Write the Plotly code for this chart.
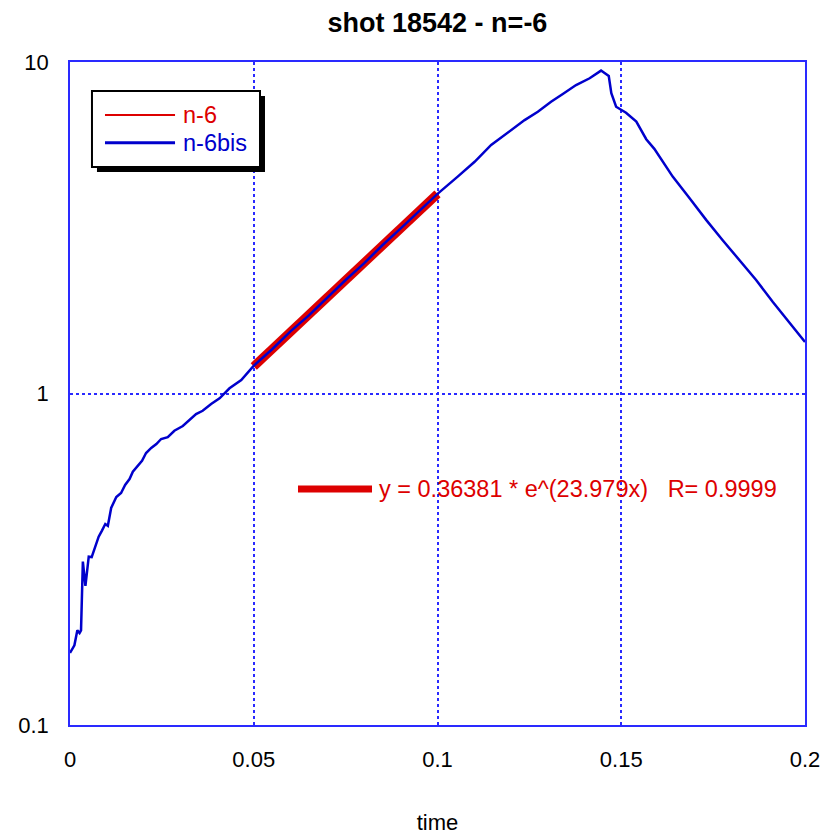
import plotly.graph_objects as go

# Measured signal "n-6bis"
time_bis = [0.0, 0.0012, 0.0020, 0.0026, 0.0030, 0.0035, 0.0042, 0.0051, 0.0059, 0.0069,
            0.0078, 0.0087, 0.0096, 0.0103, 0.0112, 0.0126, 0.0139, 0.0150, 0.0162, 0.0171,
            0.0184, 0.0196, 0.0207, 0.0221, 0.0235, 0.0248, 0.0266, 0.0284, 0.0307, 0.0325,
            0.0343, 0.0361, 0.0384, 0.0407, 0.0434, 0.0466, 0.0499, 0.055, 0.060, 0.065,
            0.070, 0.075, 0.080, 0.085, 0.090, 0.095, 0.100, 0.1055, 0.1101, 0.1146,
            0.1182, 0.1210, 0.1237, 0.1273, 0.1309, 0.1341, 0.1377, 0.1414, 0.1445, 0.1466,
            0.1473, 0.1486, 0.1513, 0.1541, 0.1568, 0.1590, 0.1640, 0.1686, 0.1731, 0.1776,
            0.1822, 0.1867, 0.1912, 0.1958, 0.2000]
value_bis = [0.165, 0.174, 0.193, 0.1895, 0.193, 0.311, 0.263, 0.322, 0.321, 0.345,
             0.370, 0.386, 0.404, 0.399, 0.4515, 0.487, 0.501, 0.530, 0.552, 0.581,
             0.604, 0.627, 0.6615, 0.685, 0.704, 0.729, 0.738, 0.772, 0.798, 0.832,
             0.867, 0.887, 0.930, 0.967, 1.037, 1.098, 1.21, 1.36, 1.54, 1.72,
             1.95, 2.20, 2.47, 2.80, 3.15, 3.56, 4.0, 4.51, 5.00, 5.62,
             6.02, 6.38, 6.68, 7.08, 7.59, 8.01, 8.52, 8.93, 9.42, 9.07,
             8.05, 7.33, 7.03, 6.61, 5.85, 5.47, 4.51, 3.88, 3.34, 2.90,
             2.53, 2.20, 1.89, 1.63, 1.43]

# Exponential fit "n-6" over 0.05..0.1
time_fit = [0.05, 0.1]
value_fit = [1.207, 4.002]

title_text = "shot 18542 - n=-6"
fit_label = "y = 0.36381 * e^(23.979x)   R= 0.9999"
x_ticks = [0, 0.05, 0.1, 0.15, 0.2]
x_tick_labels = ["0", "0.05", "0.1", "0.15", "0.2"]
y_ticks = [0.1, 1, 10]
y_tick_labels = ["0.1", "1", "10"]

FONT = "Liberation Sans, Arial, sans-serif"
RED = "#dd0000"
BLUE = "#0000cc"
GRID = "#2a2aff"

fig = go.Figure()
fig.add_trace(go.Scatter(x=time_fit, y=value_fit, mode="lines", name="n-6",
                         line=dict(color=RED, width=9), showlegend=False))
fig.add_trace(go.Scatter(x=time_bis, y=value_bis, mode="lines", name="n-6bis",
                         line=dict(color=BLUE, width=2.5), showlegend=False))

axis_common = dict(showline=True, linecolor=GRID, linewidth=1.5, mirror=True,
                   showgrid=True, gridcolor=GRID, griddash="dot", gridwidth=1.5,
                   ticks="", zeroline=False, automargin=False,
                   tickfont=dict(family=FONT, size=22, color="black"))

fig.update_xaxes(range=[0, 0.2], tickvals=x_ticks, ticktext=x_tick_labels,
                 ticklabelstandoff=14,
                 title=dict(text="time", font=dict(family=FONT, size=22, color="black"),
                            standoff=46),
                 **axis_common)
fig.update_yaxes(type="log", range=[-1, 1], tickvals=y_ticks, ticktext=y_tick_labels,
                 ticklabelstandoff=15, **axis_common)

shapes = [
    # legend shadow
    dict(type="rect", xref="paper", yref="paper", x0=0.0367, x1=0.2653, y0=0.8341, y1=0.9487,
         fillcolor="black", line=dict(color="black", width=0)),
    # legend box
    dict(type="rect", xref="paper", yref="paper", x0=0.0299, x1=0.2585, y0=0.8416, y1=0.9563,
         fillcolor="white", line=dict(color="black", width=2)),
    dict(type="line", xref="paper", yref="paper", x0=0.0476, x1=0.1429, y0=0.9201, y1=0.9201,
         line=dict(color=RED, width=2)),
    dict(type="line", xref="paper", yref="paper", x0=0.0476, x1=0.1429, y0=0.8783, y1=0.8783,
         line=dict(color=BLUE, width=3)),
    # fit label swatch
    dict(type="line", xref="paper", yref="paper", x0=0.3102, x1=0.4109, y0=0.356, y1=0.356,
         line=dict(color=RED, width=7)),
]

annotations = [
    dict(xref="paper", yref="paper", x=0.151, y=0.9201, text="n-6", showarrow=False,
         xanchor="left", yanchor="middle", font=dict(family=FONT, size=23.5, color=RED)),
    dict(xref="paper", yref="paper", x=0.151, y=0.8783, text="n-6bis", showarrow=False,
         xanchor="left", yanchor="middle", font=dict(family=FONT, size=23.5, color=BLUE)),
    dict(xref="paper", yref="paper", x=0.4177, y=0.356, text=fit_label, showarrow=False,
         xanchor="left", yanchor="middle", font=dict(family=FONT, size=23.5, color=RED)),
]

fig.update_layout(
    width=824, height=827,
    margin=dict(l=62, r=27, t=54, b=110),
    paper_bgcolor="white", plot_bgcolor="white",
    title=dict(text="<b>" + title_text + "</b>", x=0.5212, xanchor="center",
               y=0.983, yanchor="middle",
               font=dict(family=FONT, size=27, color="black")),
    shapes=shapes, annotations=annotations, showlegend=False,
)

fig.write_html("out.html")
